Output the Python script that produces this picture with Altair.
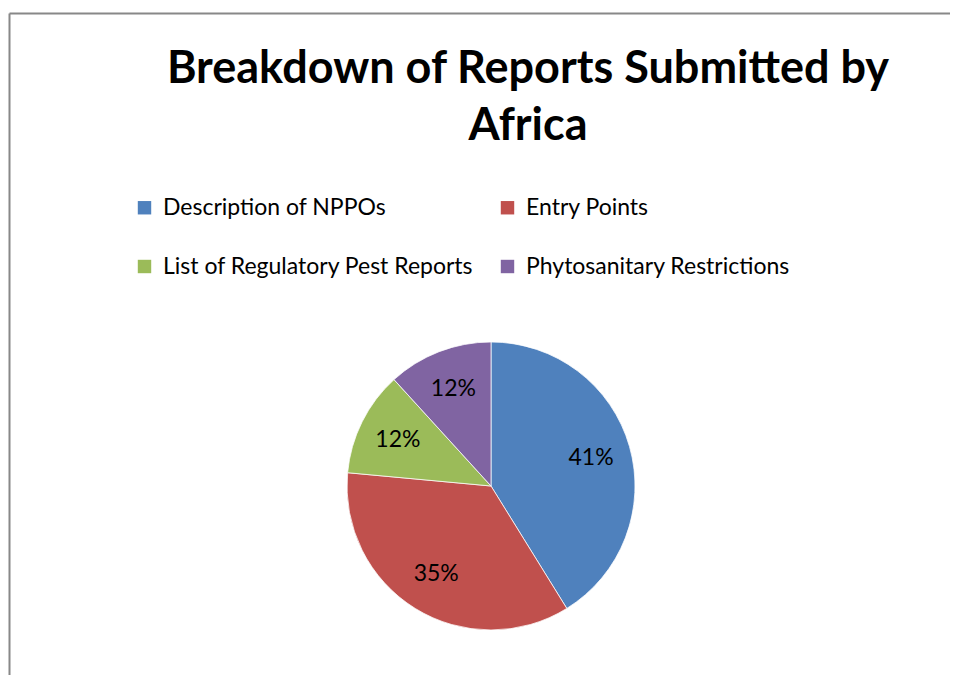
import altair as alt
import pandas as pd

categories = ["Description of NPPOs", "Entry Points",
              "List of Regulatory Pest Reports", "Phytosanitary Restrictions"]
counts = [7, 6, 2, 2]
colors = ["#4F81BD", "#C0504D", "#9BBB59", "#8064A2"]
title_lines = ["Breakdown of Reports Submitted by", "Africa"]

df = pd.DataFrame({"category": categories, "count": counts,
                   "order": list(range(len(categories)))})

base = (
    alt.Chart(df)
    .transform_joinaggregate(total="sum(count)")
    .transform_calculate(pct="format(datum.count / datum.total, '.0%')")
    .encode(
        theta=alt.Theta("count:Q", stack=True),
        order=alt.Order("order:Q"),
    )
)

arcs = base.mark_arc(outerRadius=144, stroke="#ffffff", strokeWidth=0.75).encode(
    color=alt.Color(
        "category:N",
        scale=alt.Scale(domain=categories, range=colors),
        legend=alt.Legend(
            title=None,
            orient="none",
            direction="horizontal",
            legendX=-208,
            legendY=-140,
            columns=2,
            columnPadding=22,
            rowPadding=35,
            symbolType="square",
            symbolSize=180,
            symbolStrokeWidth=0,
            labelFont="Lato",
            labelFontSize=23,
            labelColor="#000000",
            labelOffset=7,
            labelLimit=600,
        ),
    )
)

labels = base.mark_text(radius=104, font="Lato", fontSize=23).encode(
    text="pct:N",
    color=alt.value("#000000"),
)

# chart frame (decoration): top and left edges of the outer border
frame_df = pd.DataFrame({"k": [0]})
frame_top = alt.Chart(frame_df).mark_rule(color="#888888", strokeWidth=2).encode(
    x=alt.value(-331.5), x2=alt.value(620), y=alt.value(-322.5)
)
frame_left = alt.Chart(frame_df).mark_rule(color="#888888", strokeWidth=2).encode(
    x=alt.value(-331.5), y=alt.value(-322.5), y2=alt.value(340)
)

chart = (
    alt.layer(frame_top, frame_left, arcs, labels)
    .properties(
        width=300,
        height=300,
        autosize="none",
        padding={"left": 333, "top": 328, "right": 309, "bottom": 39},
        title=alt.Title(
            title_lines,
            font="Lato",
            fontSize=45,
            fontWeight="bold",
            color="#000000",
            lineHeight=57,
            anchor="middle",
            baseline="top",
            offset=0,
            dx=37,
            dy=136,
        ),
    )
    .configure_view(stroke=None)
)

chart.save("out.html", embed_options={"renderer": "svg", "actions": False})
